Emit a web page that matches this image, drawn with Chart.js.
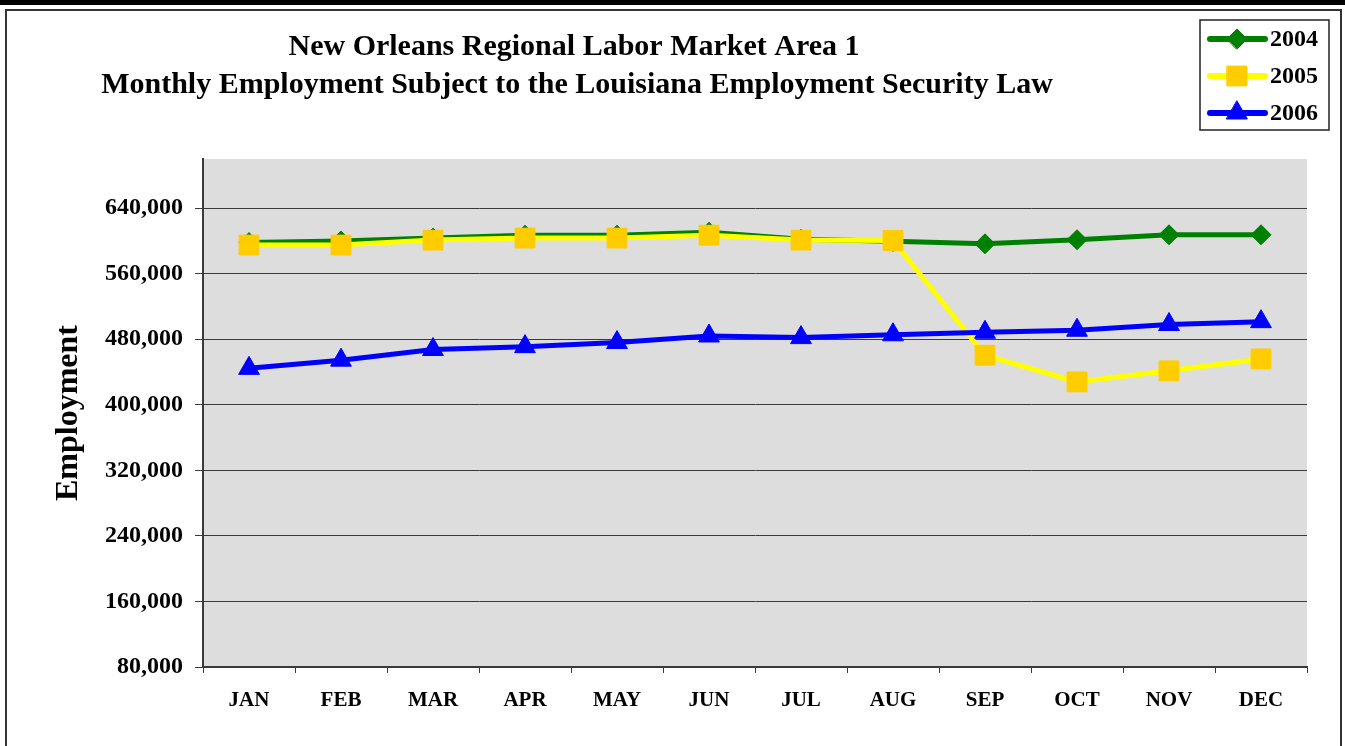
<!DOCTYPE html>
<html>
<head>
<meta charset="utf-8">
<title>New Orleans Regional Labor Market Area 1</title>
<script src="https://cdn.jsdelivr.net/npm/chart.js@4.4.0/dist/chart.umd.min.js"></script>
<style>
  html, body { margin: 0; padding: 0; background: #ffffff; }
  #wrap { position: relative; width: 1345px; height: 746px; }
</style>
</head>
<body>
<div id="wrap"><canvas id="chart-employment"></canvas></div>
<script>
// Data
const months = ['JAN', 'FEB', 'MAR', 'APR', 'MAY', 'JUN', 'JUL', 'AUG', 'SEP', 'OCT', 'NOV', 'DEC'];
const emp2004 = [598000, 600000, 603500, 607000, 607000, 610500, 602000, 599500, 596500, 601500, 607500, 607500];
const emp2005 = [595000, 595000, 601000, 603500, 603500, 607000, 601000, 600500, 460500, 428000, 441500, 456000];
const emp2006 = [444500, 454500, 467500, 471000, 476000, 484000, 482000, 485500, 488500, 491000, 498000, 501500];
const seriesNames = ['2004', '2005', '2006'];
const yTickValues = [80000, 160000, 240000, 320000, 400000, 480000, 560000, 640000];
const yMin = 80000;
const yMax = 700000;
const titleLines = [
  'New Orleans Regional Labor Market Area 1',
  'Monthly Employment Subject to the Louisiana Employment Security Law'
];
const yAxisTitle = 'Employment';

// Theme
const fontFamily = "'Liberation Serif', 'Times New Roman', serif";
const green = '#008000';
const yellowLine = '#FFFF00';
const yellowMarker = '#FFCC00';
const blue = '#0000FF';
const plotBg = '#DDDDDD';
const gridColor = '#3a3a3a';

const series = [
  { label: seriesNames[0], data: emp2004, line: green, marker: green, style: 'rectRot', radius: 10 },
  { label: seriesNames[1], data: emp2005, line: yellowLine, marker: yellowMarker, style: 'rect', radius: 14 },
  { label: seriesNames[2], data: emp2006, line: blue, marker: blue, style: 'triangle', radius: 12 }
];

// Plot background, frame, titles and the boxed legend
const decorations = {
  id: 'decorations',
  beforeDraw(chart) {
    const { ctx, chartArea: a } = chart;
    ctx.save();
    ctx.fillStyle = plotBg;
    ctx.fillRect(a.left, a.top, a.right - a.left, a.bottom - a.top);
    ctx.restore();
  },
  afterDraw(chart) {
    const { ctx, chartArea: a } = chart;
    ctx.save();

    // outer frame
    ctx.fillStyle = '#000';
    ctx.fillRect(0, 0, chart.width, 5);
    ctx.strokeStyle = '#333';
    ctx.lineWidth = 2;
    ctx.beginPath();
    ctx.moveTo(6, chart.height + 2);
    ctx.lineTo(6, 10);
    ctx.lineTo(1341, 10);
    ctx.lineTo(1341, chart.height + 2);
    ctx.stroke();

    // title
    ctx.fillStyle = '#000';
    ctx.textAlign = 'center';
    ctx.textBaseline = 'middle';
    ctx.font = 'bold 30px ' + fontFamily;
    ctx.fillText(titleLines[0], 574, 47);
    ctx.fillText(titleLines[1], 577, 85);

    // y axis title
    ctx.save();
    ctx.translate(69, (a.top + a.bottom) / 2);
    ctx.rotate(-Math.PI / 2);
    ctx.font = 'bold 32px ' + fontFamily;
    ctx.fillText(yAxisTitle, 0, 0);
    ctx.restore();

    // legend box
    ctx.strokeStyle = '#222';
    ctx.lineWidth = 1.5;
    ctx.strokeRect(1200, 20, 129, 110);
    const rowY = [39, 76, 113];
    series.forEach((s, i) => {
      const y = rowY[i];
      ctx.strokeStyle = s.line;
      ctx.lineWidth = 6;
      ctx.lineCap = 'round';
      ctx.beginPath();
      ctx.moveTo(1210, y);
      ctx.lineTo(1265, y);
      ctx.stroke();
      ctx.fillStyle = s.marker;
      ctx.strokeStyle = s.marker;
      ctx.lineWidth = 1;
      Chart.helpers.drawPoint(ctx, { pointStyle: s.style, radius: s.radius, borderWidth: 1 }, 1237, y);
      ctx.fillStyle = '#000';
      ctx.textAlign = 'left';
      ctx.textBaseline = 'middle';
      ctx.font = 'bold 24px ' + fontFamily;
      ctx.fillText(s.label, 1270, y + 1);
    });

    ctx.restore();
  }
};

const canvas = document.getElementById('chart-employment');
new Chart(canvas, {
  type: 'line',
  data: {
    labels: months,
    datasets: series.map((s, i) => ({
      label: s.label,
      data: s.data,
      borderColor: s.line,
      borderWidth: 5,
      backgroundColor: s.marker,
      pointStyle: s.style,
      pointRadius: s.radius,
      pointHoverRadius: s.radius,
      pointBackgroundColor: s.marker,
      pointBorderColor: s.marker,
      pointBorderWidth: 1,
      tension: 0,
      fill: false,
      order: series.length - i
    }))
  },
  options: {
    responsive: true,
    maintainAspectRatio: false,
    animation: false,
    layout: { padding: { left: 0, right: 38, top: 159, bottom: 0 } },
    plugins: {
      legend: { display: false },
      title: { display: false },
      tooltip: { enabled: false }
    },
    scales: {
      x: {
        type: 'category',
        offset: true,
        afterFit(scale) { scale.height = 79; },
        grid: { offset: true, drawOnChartArea: false, drawTicks: true, tickLength: 6, color: gridColor },
        border: { display: true, color: gridColor, width: 2 },
        ticks: { color: '#000', padding: 15, font: { family: fontFamily, size: 21, weight: 'bold' }, maxRotation: 0 }
      },
      y: {
        min: yMin,
        max: yMax,
        afterFit(scale) { scale.width = 203; },
        afterBuildTicks(scale) { scale.ticks = yTickValues.map(v => ({ value: v })); },
        grid: { color: gridColor, lineWidth: 1, tickLength: 8 },
        border: { display: true, color: gridColor, width: 2 },
        ticks: {
          color: '#000',
          padding: 12,
          font: { family: fontFamily, size: 24, weight: 'bold' },
          callback: (v) => v.toLocaleString('en-US')
        }
      }
    }
  },
  plugins: [decorations]
});
</script>
</body>
</html>
